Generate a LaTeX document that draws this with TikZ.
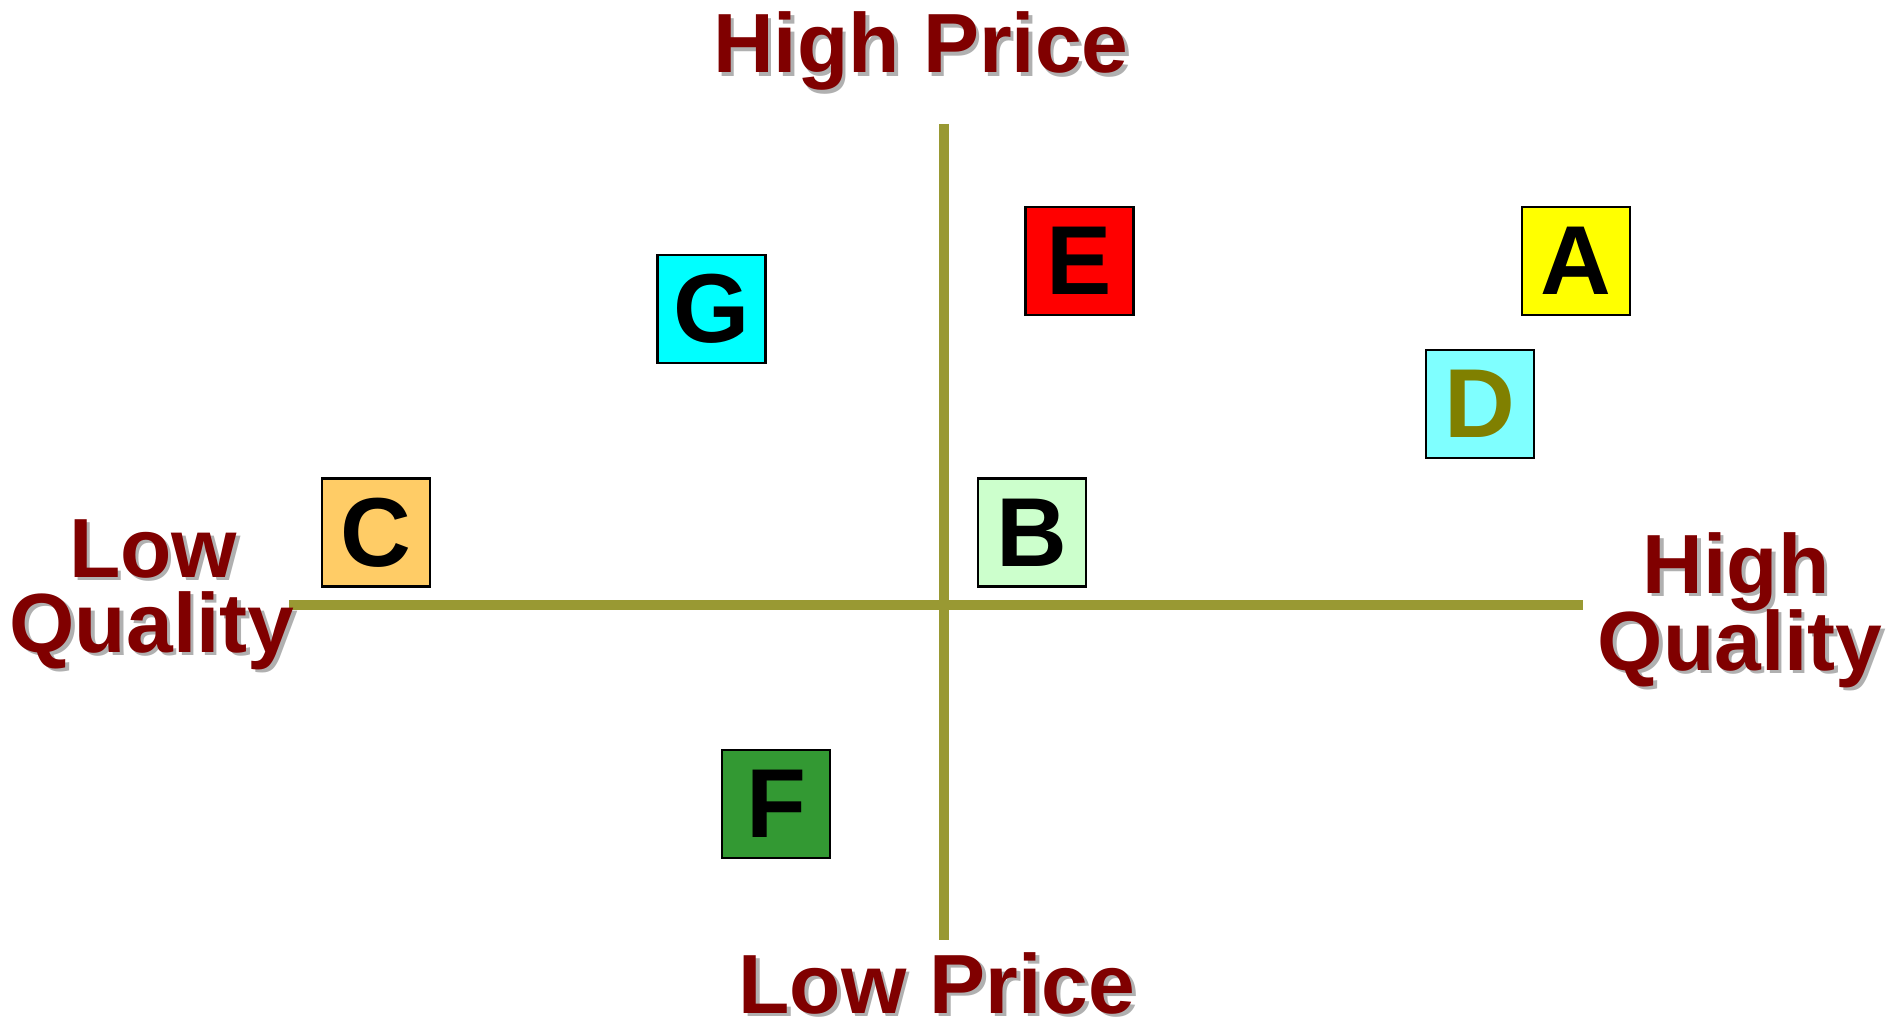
\documentclass[tikz,border=0pt]{standalone}
\usepackage{fontspec}
\setmainfont{Liberation Sans}
\definecolor{maroon}{HTML}{800000}
\definecolor{axiscol}{HTML}{999933}
\definecolor{shadowcol}{HTML}{B0B0B0}
\definecolor{cA}{HTML}{FFFF00}
\definecolor{cD}{HTML}{7FFFFF}
\definecolor{cDtext}{HTML}{808000}
\definecolor{cE}{HTML}{FF0000}
\definecolor{cG}{HTML}{00FFFF}
\definecolor{cC}{HTML}{FFCC66}
\definecolor{cB}{HTML}{CCFFCC}
\definecolor{cF}{HTML}{339933}
\begin{document}
\begin{tikzpicture}[x=1pt,y=-1pt,
  lbl/.style={anchor=base,inner sep=0pt,text=maroon,font=\fontsize{84}{84}\selectfont\bfseries},
  lblshadow/.style={anchor=base,inner sep=0pt,text=shadowcol,font=\fontsize{84}{84}\selectfont\bfseries},
  brand/.style={draw=black,line width=2.8pt,minimum size=108pt,inner sep=0pt,font=\fontsize{98}{98}\selectfont\bfseries},
  axis/.style={draw=axiscol,line width=10pt}]
\useasboundingbox (0,0) rectangle (1889,1022);
\fill[white] (0,0) rectangle (1889,1022);
% axes
\coordinate (hl) at (289,605);
\coordinate (hr) at (1583,605);
\coordinate (vt) at (944,124);
\coordinate (vb) at (944,940);
\draw[axis] (hl) -- (hr);
\draw[axis] (vt) -- (vb);
% labels with shadows
\foreach \n/\x/\y/\t in {hp/921/73/High Price, lp/937/1013/Low Price, lq1/153/577/Low, lq2/152/652/Quality, hq1/1736/593/High, hq2/1740/670/Quality}{
  \node[lblshadow] (\n s) at (\x+3.5,\y+3.5) {\t};
  \node[lbl] (\n) at (\x,\y) {\t};
}
% brand boxes
\node[brand,fill=cA] (A) at (1576,261) {A};
\node[brand,fill=cD,text=cDtext] (D) at (1480,404) {D};
\node[brand,fill=cE] (E) at (1079.5,261) {E};
\node[brand,fill=cG] (G) at (711.5,309) {G};
\node[brand,fill=cC] (C) at (376,532.5) {C};
\node[brand,fill=cB] (B) at (1032,532.5) {B};
\node[brand,fill=cF] (F) at (776,804) {F};
\end{tikzpicture}
\end{document}
